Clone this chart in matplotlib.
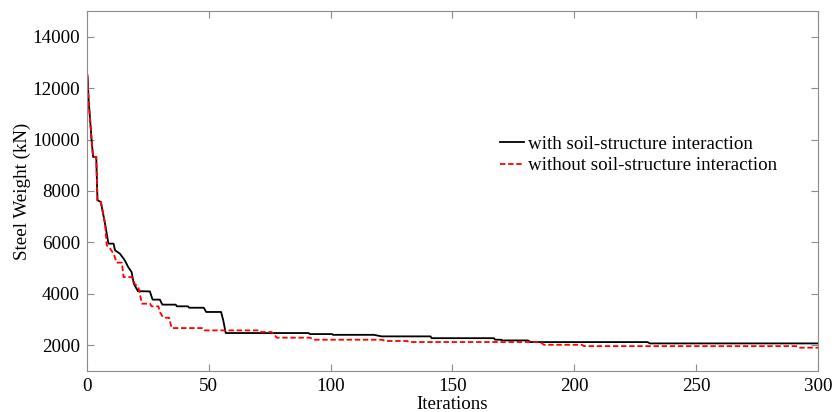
import matplotlib
matplotlib.use("Agg")
import matplotlib.pyplot as plt

# best steel weight per iteration
iter_ssi = [0.3, 0.8, 1.3, 2, 2.6, 3.9, 4.4, 5.8, 7.5, 8.9, 11, 11.6, 13.6, 15.6, 17,
            18.4, 19.3, 21, 25.9, 27, 30, 31, 36.5, 37, 41.5, 42, 48, 49, 55.1, 56,
            57, 91, 91.5, 100.6, 101, 117.7, 121, 141, 141.5, 167, 167.5, 170, 170.5,
            181, 182, 230, 231, 300]
w_ssi = [12500, 11500, 10880, 9975, 9325, 9325, 7640, 7570, 6730, 5950, 5950, 5690,
         5560, 5300, 5040, 4845, 4390, 4100, 4090, 3770, 3770, 3575, 3575, 3510, 3510,
         3455, 3455, 3290, 3290, 2960, 2470, 2470, 2430, 2430, 2400, 2400, 2340, 2340,
         2270, 2270, 2210, 2210, 2183, 2183, 2118, 2118, 2066, 2066]

iter_fix = [0.3, 0.8, 1.3, 2, 2.6, 3.9, 4.4, 5.8, 7.5, 8.2, 9.6, 11, 12.3, 14.4, 15.1,
            18.5, 19.6, 21.2, 22.6, 26, 26.6, 29.4, 30, 31.4, 33.8, 34.8, 47.8, 48.4,
            71, 71.6, 75.8, 78, 91.6, 93, 121, 122.5, 131.5, 132, 186, 187.5, 203, 204,
            291.6, 292.5, 300]
w_fix = [12450, 11500, 10880, 9975, 9325, 9325, 7640, 7570, 6730, 5884, 5754, 5560,
         5210, 5210, 4650, 4650, 4390, 4260, 3613, 3613, 3508, 3508, 3287, 3067, 3067,
         2663, 2663, 2573, 2573, 2510, 2510, 2290, 2290, 2210, 2210, 2160, 2160, 2120,
         2120, 2013, 2013, 1960, 1960, 1900, 1900]

plt.rcParams['font.family'] = ['Liberation Serif', 'DejaVu Serif']
plt.rcParams['font.size'] = 13.7

fig = plt.figure(figsize=(8.34, 4.12), dpi=100)
ax = fig.add_axes([0.104, 0.1, 0.877, 0.873])

ax.plot(iter_ssi, w_ssi, color='black', linewidth=1.3, label='with soil-structure interaction')
ax.plot(iter_fix, w_fix, color='red', linewidth=1.3, linestyle=(0, (3, 1.5)),
        label='without soil-structure interaction')

ax.set_xlim(0, 300)
ax.set_ylim(1000, 15000)
ax.set_xticks([0, 50, 100, 150, 200, 250, 300])
ax.set_yticks([2000, 4000, 6000, 8000, 10000, 12000, 14000])
ax.tick_params(direction='in', top=True, right=True, length=5, color='#8c8c8c', pad=5)
for s in ax.spines.values():
    s.set_color('#8c8c8c')

ax.set_xlabel('Iterations', labelpad=1)
ax.set_ylabel('Steel Weight (kN)', labelpad=1)

ax.legend(loc='upper left', bbox_to_anchor=(0.555, 0.676), frameon=False,
          handlelength=1.23, handletextpad=0.25, labelspacing=0.23, borderaxespad=0)

fig.savefig('out.png', dpi=100)
